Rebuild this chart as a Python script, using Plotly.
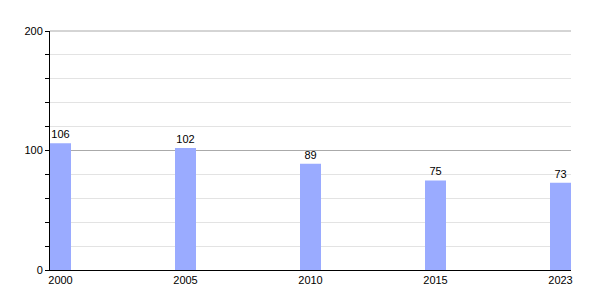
import plotly.graph_objects as go

years = ["2000", "2005", "2010", "2015", "2023"]
values = [106, 102, 89, 75, 73]

fig = go.Figure(go.Bar(
    x=years, y=values, width=0.168,
    marker=dict(color="#9aabff", line=dict(width=0)),
    text=[str(v) for v in values], textposition="outside",
    textfont=dict(size=11, color="#000", family="Liberation Sans, Arial"),
    cliponaxis=False,
))
fig.update_layout(
    width=600, height=300,
    margin=dict(l=50, r=29, t=31, b=30),
    plot_bgcolor="white", paper_bgcolor="white",
    showlegend=False,
    font=dict(family="Liberation Sans, Arial", size=11, color="#000"),
    xaxis=dict(type="category", range=[-0.084, 4.084], showgrid=False,
               showline=True, linecolor="#000", linewidth=1, ticks="",
               tickfont=dict(size=11), ticklabelstandoff=0),
    yaxis=dict(range=[0, 200], tickvals=[0, 100, 200], showgrid=True, gridcolor="#aaaaaa", gridwidth=1,
               showline=True, linecolor="#000", linewidth=1,
               ticks="outside", ticklen=4, tickcolor="#000", zeroline=False,
               tickfont=dict(size=11),
               minor=dict(dtick=20, showgrid=True, gridcolor="#e3e3e3", gridwidth=1,
                          ticks="outside", ticklen=4, tickcolor="#000")),
    shapes=[dict(type="line", xref="paper", yref="paper", x0=0, x1=1, y0=1, y1=1,
                 line=dict(color="#aaaaaa", width=1), layer="below")],
)
fig.write_html("out.html")
